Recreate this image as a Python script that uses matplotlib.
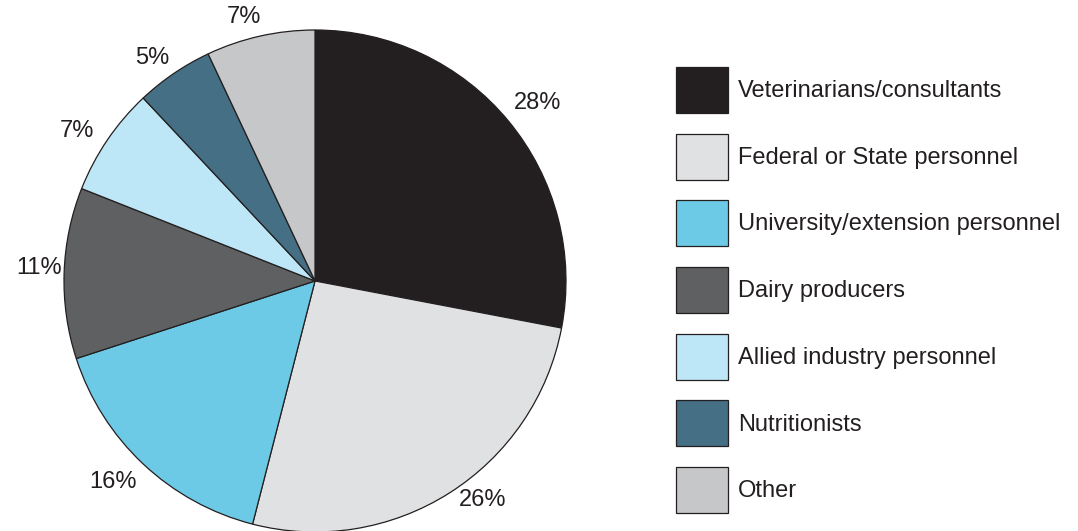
import matplotlib
matplotlib.use('Agg')
import matplotlib.pyplot as plt
import numpy as np

# Data
categories = ['Veterinarians/consultants', 'Federal or State personnel',
              'University/extension personnel', 'Dairy producers',
              'Allied industry personnel', 'Nutritionists', 'Other']
values = [28, 26, 16, 11, 7, 5, 7]
colors = ['#231f20', '#e0e1e3', '#6dcae6', '#5f6062', '#bde6f7', '#456f84', '#c6c7c9']

plt.rcParams['font.family'] = ['Liberation Sans', 'DejaVu Sans']

fig = plt.figure(figsize=(10.78, 5.31), dpi=100)
# pie placed in pixel coordinates: centre (315, 281), radius 251
ax = fig.add_axes([64 / 1078, (531 - 532) / 531, 502 / 1078, 502 / 531])

wedges = ax.pie(values, colors=colors, startangle=90, counterclock=False,
                radius=1.0,
                wedgeprops=dict(edgecolor='#231f20', linewidth=0.9))[0]

# percentage labels outside the pie (label distance / angle shift per slice)
label_dist = [1.135, 1.10, 1.135, 1.10, 1.12, 1.10, 1.09]
label_shift = [-1, 5, -2, -1, 2, 2, 2.5]
total = sum(values)
cum = 0
for v, d, s in zip(values, label_dist, label_shift):
    mid = 90 - (cum + v / 2) / total * 360 + s
    cum += v
    ax.text(d * np.cos(np.radians(mid)), d * np.sin(np.radians(mid)), f'{v}%',
            ha='center', va='center', fontsize=17, color='#231f20')

ax.set_xlim(-1, 1)
ax.set_ylim(-1, 1)

leg = fig.legend(wedges, categories, loc='upper left',
                 bbox_to_anchor=(676 / 1078, 1 - 67 / 531),
                 frameon=False, borderpad=0, borderaxespad=0,
                 handlelength=2.2, handleheight=2.62, labelspacing=0.876,
                 handletextpad=0.42, fontsize=17)
for t in leg.get_texts():
    t.set_color('#231f20')

fig.savefig('out.png', dpi=100)
